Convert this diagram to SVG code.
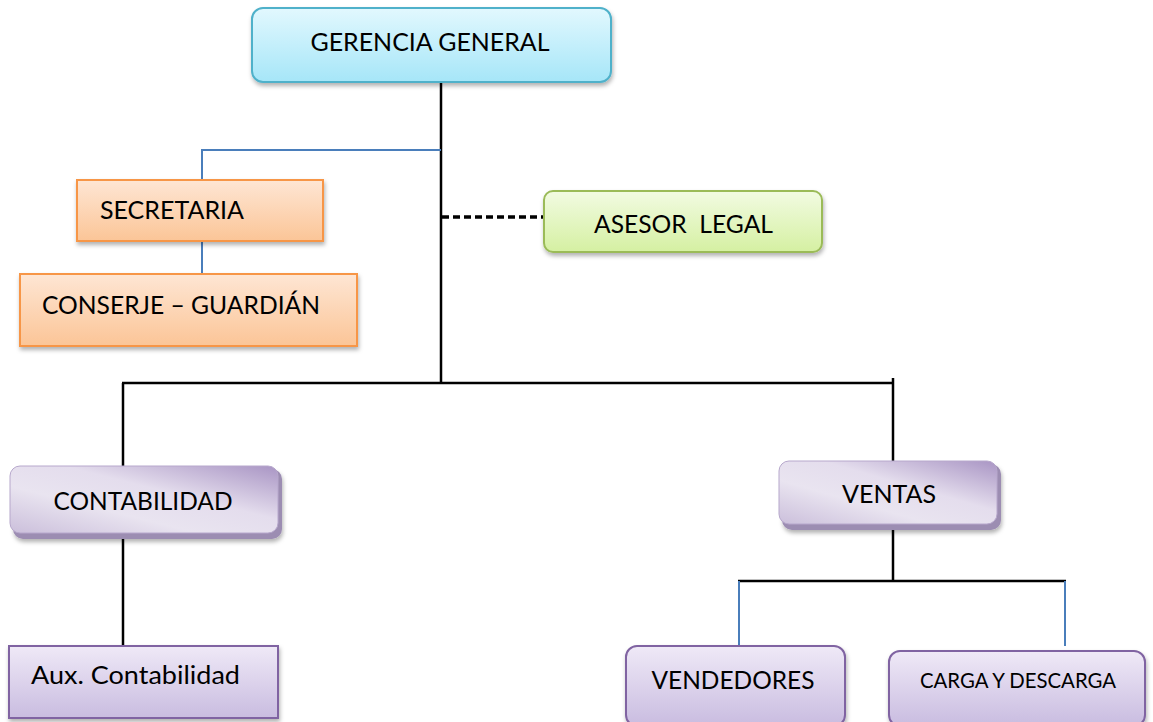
<svg xmlns="http://www.w3.org/2000/svg" width="1153" height="722" viewBox="0 0 1153 722">
<defs>
<linearGradient id="gCyan" x1="0" y1="0" x2="0" y2="1"><stop offset="0" stop-color="#e2f8fe"/><stop offset="1" stop-color="#a6e6f8"/></linearGradient>
<linearGradient id="gOrange" x1="0" y1="0" x2="0" y2="1"><stop offset="0" stop-color="#fee6d4"/><stop offset="1" stop-color="#fbc597"/></linearGradient>
<linearGradient id="gGreen" x1="0" y1="0" x2="0" y2="1"><stop offset="0" stop-color="#f2fbe2"/><stop offset="1" stop-color="#d5f0a2"/></linearGradient>
<linearGradient id="gPurple" x1="0" y1="0" x2="0" y2="1"><stop offset="0" stop-color="#efe9f7"/><stop offset="1" stop-color="#c9bce0"/></linearGradient>
<linearGradient id="gPurple3d" x1="0" y1="1" x2="1" y2="0"><stop offset="0" stop-color="#cbbfdb"/><stop offset="0.35" stop-color="#e9e4f0"/><stop offset="0.6" stop-color="#e4dded"/><stop offset="1" stop-color="#a995c4"/></linearGradient>
<filter id="sh" x="-10%" y="-10%" width="120%" height="130%"><feDropShadow dx="1" dy="3" stdDeviation="2" flood-color="#000" flood-opacity="0.3"/></filter>
</defs>
<style>
text{font-family:Lato,"Liberation Sans",sans-serif;fill:#000;font-size:25px}
.c{text-anchor:middle}
.blk{stroke:#000;stroke-width:2.5;fill:none}
.blu{stroke:#4a7ebb;stroke-width:2;fill:none}
.cyan{fill:url(#gCyan);stroke:#4fb1ca;stroke-width:2}
.org{fill:url(#gOrange);stroke:#f79646;stroke-width:2}
.grn{fill:url(#gGreen);stroke:#9bbb59;stroke-width:2}
.pur{fill:url(#gPurple);stroke:#8064a2;stroke-width:2}
.p3d{fill:url(#gPurple3d);stroke:#b7a8cc;stroke-width:1}
.p3dbk{fill:#9c8db2}
</style>
<g id="connectors">
<line class="blk" x1="441" y1="82" x2="441" y2="384"/>
<polyline class="blu" points="441,150 202,150 202,180"/>
<line class="blu" x1="202" y1="241" x2="202" y2="274"/>
<line stroke="#000" stroke-width="3.5" stroke-dasharray="7,4" x1="442" y1="217" x2="543" y2="217"/>
<line class="blk" x1="122" y1="383" x2="893" y2="383"/>
<line class="blk" x1="123" y1="383" x2="123" y2="466"/>
<line class="blk" x1="893" y1="378" x2="893" y2="462"/>
<line class="blk" x1="123" y1="536" x2="123" y2="646"/>
<line class="blk" x1="893" y1="527" x2="893" y2="581"/>
<line class="blk" x1="738" y1="581" x2="1066" y2="581"/>
<line class="blu" x1="739" y1="581" x2="739" y2="645"/>
<line class="blu" x1="1065" y1="581" x2="1065" y2="646"/>
</g>
<g id="gerencia">
<rect class="cyan" filter="url(#sh)" x="252" y="8" width="359" height="74" rx="11"/>
<text class="c" x="430" y="51" textLength="239" lengthAdjust="spacingAndGlyphs">GERENCIA GENERAL</text>
</g>
<g id="secretaria">
<rect class="org" filter="url(#sh)" x="77" y="180" width="246" height="61"/>
<text x="100" y="219" textLength="144" lengthAdjust="spacingAndGlyphs">SECRETARIA</text>
</g>
<g id="conserje">
<rect class="org" filter="url(#sh)" x="20" y="274" width="337" height="72"/>
<text x="42" y="314" textLength="278" lengthAdjust="spacingAndGlyphs">CONSERJE – GUARDIÁN</text>
</g>
<g id="asesor">
<rect class="grn" filter="url(#sh)" x="544" y="191" width="278" height="61" rx="9"/>
<text x="594" y="233" textLength="179" lengthAdjust="spacingAndGlyphs" xml:space="preserve">ASESOR  LEGAL</text>
</g>
<g id="contabilidad">
<rect class="p3dbk" filter="url(#sh)" x="13" y="469" width="269" height="70" rx="10"/>
<rect class="p3d" x="10" y="466" width="268" height="67" rx="10"/>
<text class="c" x="143" y="510" textLength="179" lengthAdjust="spacingAndGlyphs">CONTABILIDAD</text>
</g>
<g id="aux">
<rect class="pur" filter="url(#sh)" x="9" y="646" width="269" height="72"/>
<text x="31" y="684" textLength="209" lengthAdjust="spacingAndGlyphs">Aux. Contabilidad</text>
</g>
<g id="ventas">
<rect class="p3dbk" filter="url(#sh)" x="782" y="464" width="219" height="66" rx="10"/>
<rect class="p3d" x="779" y="461" width="218" height="63" rx="10"/>
<text class="c" x="889" y="503" textLength="94" lengthAdjust="spacingAndGlyphs">VENTAS</text>
</g>
<g id="vendedores">
<rect class="pur" filter="url(#sh)" x="626" y="646" width="219" height="80" rx="11"/>
<text class="c" x="733" y="689" textLength="163" lengthAdjust="spacingAndGlyphs">VENDEDORES</text>
</g>
<g id="carga">
<rect class="pur" filter="url(#sh)" x="889" y="651" width="256" height="75" rx="11"/>
<text class="c" x="1018" y="688" style="font-size:21px" textLength="196" lengthAdjust="spacingAndGlyphs">CARGA Y DESCARGA</text>
</g>
</svg>
